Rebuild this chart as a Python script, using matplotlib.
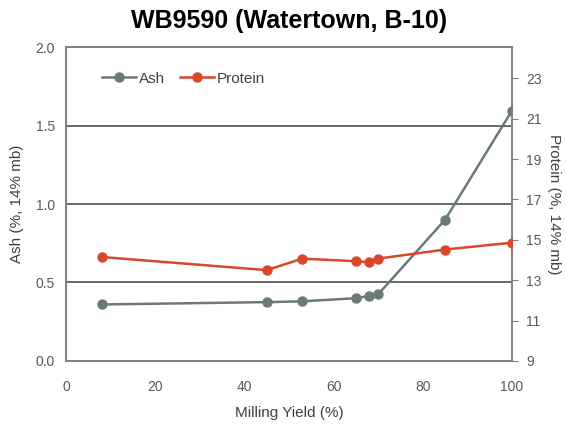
import matplotlib
matplotlib.use("Agg")
import matplotlib.pyplot as plt
from matplotlib.ticker import MultipleLocator

plt.rcParams['font.family'] = ['Liberation Sans', 'DejaVu Sans']

# milling yield (%) for each fraction
yield_pct = [8, 45, 53, 65, 68, 70, 85, 100]
ash = [0.36, 0.375, 0.38, 0.40, 0.415, 0.425, 0.90, 1.595]
protein = [14.15, 13.5, 14.07, 13.94, 13.89, 14.07, 14.52, 14.86]

ash_col = '#6b7b73'
prot_col = '#d9472b'
txt_col = '#595959'

fig = plt.figure(figsize=(5.66, 4.25), dpi=100, facecolor='w')
ax = fig.add_axes([0.1166, 0.1506, 0.788, 0.7388])
ax2 = ax.twinx()

l1, = ax.plot(yield_pct, ash, '-o', color=ash_col, lw=1.8, ms=6.5, label='Ash', zorder=3)
l2, = ax2.plot(yield_pct, protein, '-o', color=prot_col, lw=1.8, ms=6.5, label='Protein', zorder=3)

ax.set_xlim(0, 100)
ax.set_ylim(0, 2.0)
ax2.set_ylim(9, 24.55)
ax.xaxis.set_major_locator(MultipleLocator(20))
ax.yaxis.set_major_locator(MultipleLocator(0.5))
ax.yaxis.set_major_formatter(matplotlib.ticker.FormatStrFormatter('%.1f'))
ax2.set_yticks(range(9, 24, 2))

#gridlines at the ash ticks
for v in [0.5, 1.0, 1.5]:
    ax.axhline(v, color='#505050', lw=1.2, zorder=1)

for a in (ax, ax2):
    for s in a.spines.values():
        s.set_color('#808080')
        s.set_linewidth(1.2)

ax.tick_params(axis='y', length=0, labelsize=10, labelcolor=txt_col, pad=8)
ax.tick_params(axis='x', length=0, labelsize=10, labelcolor=txt_col, pad=14)
ax2.tick_params(axis='y', length=4, color='#808080', labelsize=10, labelcolor=txt_col, pad=6)

ax.set_xlabel('Milling Yield (%)', fontsize=11, color='#404040', labelpad=8)
ax.set_ylabel('Ash (%, 14% mb)', fontsize=11, color='#404040', labelpad=8)
ax2.set_ylabel('Protein (%, 14% mb)', fontsize=11, color='#404040', rotation=270, labelpad=14)

ax.set_title('WB9590 (Watertown, B-10)', fontsize=18, fontweight='bold', pad=14)

ax.legend(handles=[l1, l2], loc='upper left', bbox_to_anchor=(0.05, 0.965), ncol=2,
          frameon=False, fontsize=11, handlelength=2.2, handletextpad=0.2,
          columnspacing=1.0, labelcolor='#404040')

fig.savefig('out.png', dpi=100)
